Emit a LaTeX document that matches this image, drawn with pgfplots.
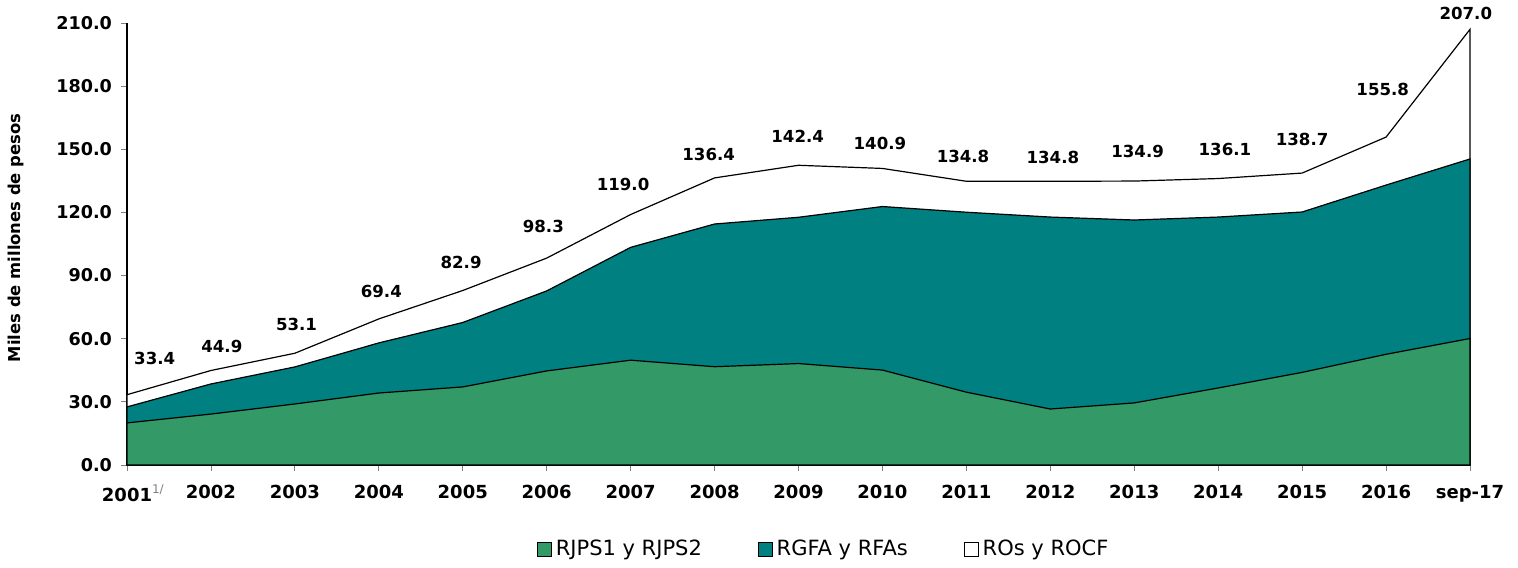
\documentclass[border=0pt]{standalone}
\usepackage{pgfplots}
\pgfplotsset{compat=1.18}
\usepackage{pgfplotstable}
\usepackage{fontspec}
\setmainfont{DejaVu Sans}
\definecolor{cgreen}{HTML}{339966}
\definecolor{cteal}{HTML}{008080}
\pgfplotstableread{
x green teal total
0 20.0 27.6 33.4
1 24.2 38.5 44.9
2 29.0 46.6 53.1
3 34.2 58.0 69.4
4 37.1 67.7 82.9
5 44.7 82.7 98.3
6 49.8 103.4 119.0
7 46.7 114.5 136.4
8 48.2 117.7 142.4
9 45.1 122.8 140.9
10 34.6 120.1 134.8
11 26.6 117.8 134.8
12 29.5 116.4 134.9
13 36.6 117.8 136.1
14 44.0 120.2 138.7
15 52.6 133.0 155.8
16 60.1 145.4 207.0
}\datatable
\pgfplotstableread{
x ly lab
0.33 50.8 33.4
1.13 56.5 44.9
2.02 67.0 53.1
3.03 82.6 69.4
3.98 96.4 82.9
4.96 113.4 98.3
5.91 133.4 119.0
6.93 147.7 136.4
7.99 156.3 142.4
8.97 152.9 140.9
9.96 146.8 134.8
11.03 146.3 134.8
12.04 149.2 134.9
13.08 150.1 136.1
14.00 154.9 138.7
14.96 178.6 155.8
15.95 214.7 207.0
}\labeltable
\begin{document}
\begin{tikzpicture}
\useasboundingbox (-63.5pt,-51pt) rectangle (695.5pt,232.5pt);
\begin{axis}[
  scale only axis,
  width=671.5pt, height=221pt,
  xmin=0, xmax=16, ymin=0, ymax=210,
  axis lines=left,
  axis line style={-, black, line width=0.6pt},
  clip=false,
  font=\fontsize{9}{10}\selectfont,
  xtick={0,...,16},
  xticklabels={2001\rlap{\textsuperscript{\textcolor{gray}{\mdseries 1/}}},2002,2003,2004,2005,2006,2007,2008,2009,2010,2011,2012,2013,2014,2015,2016,sep-17},
  xticklabel style={font=\fontsize{9}{10}\selectfont\bfseries, yshift=-3.5pt},
  ytick={0,30,...,210},
  yticklabel style={font=\fontsize{8.8}{10}\selectfont\bfseries, xshift=-1pt},
  /pgf/number format/.cd, fixed, fixed zerofill, precision=1, assume math mode=true,
  /pgfplots/.cd,
  tick align=outside,
  major tick length=3pt,
  tick style={gray, line width=0.4pt},
  ylabel={\bfseries Miles de millones de pesos},
  ylabel style={at={(axis description cs:-0.083,0.514)}, anchor=center, font=\fontsize{8.2}{10}\selectfont},
  legend columns=3,
  reverse legend,
  legend style={at={(0.5195,-0.19)}, anchor=center, draw=none, fill=none,
    font=\fontsize{10.5}{12}\selectfont, /tikz/every even column/.append style={column sep=26pt}},
  legend image code/.code={\draw[#1, draw=black, line width=0.4pt] (0pt,-3.5pt) rectangle (7pt,3.5pt);},
]
\addplot[fill=white, draw=black, line width=0.6pt] table[x=x, y=total] {\datatable} \closedcycle;
\addlegendentry{ROs y ROCF}
\addplot[fill=cteal, draw=black, line width=0.6pt] table[x=x, y=teal] {\datatable} \closedcycle;
\addlegendentry{RGFA y RFAs}
\addplot[fill=cgreen, draw=black, line width=0.6pt] table[x=x, y=green] {\datatable} \closedcycle;
\addlegendentry{RJPS1 y RJPS2}
\addplot[forget plot, draw=none, mark=none, nodes near coords, point meta=explicit symbolic,
  nodes near coords style={anchor=center, font=\fontsize{8.3}{10}\selectfont\bfseries}]
  table[x=x, y=ly, meta=lab] {\labeltable};
\end{axis}
\end{tikzpicture}
\end{document}
